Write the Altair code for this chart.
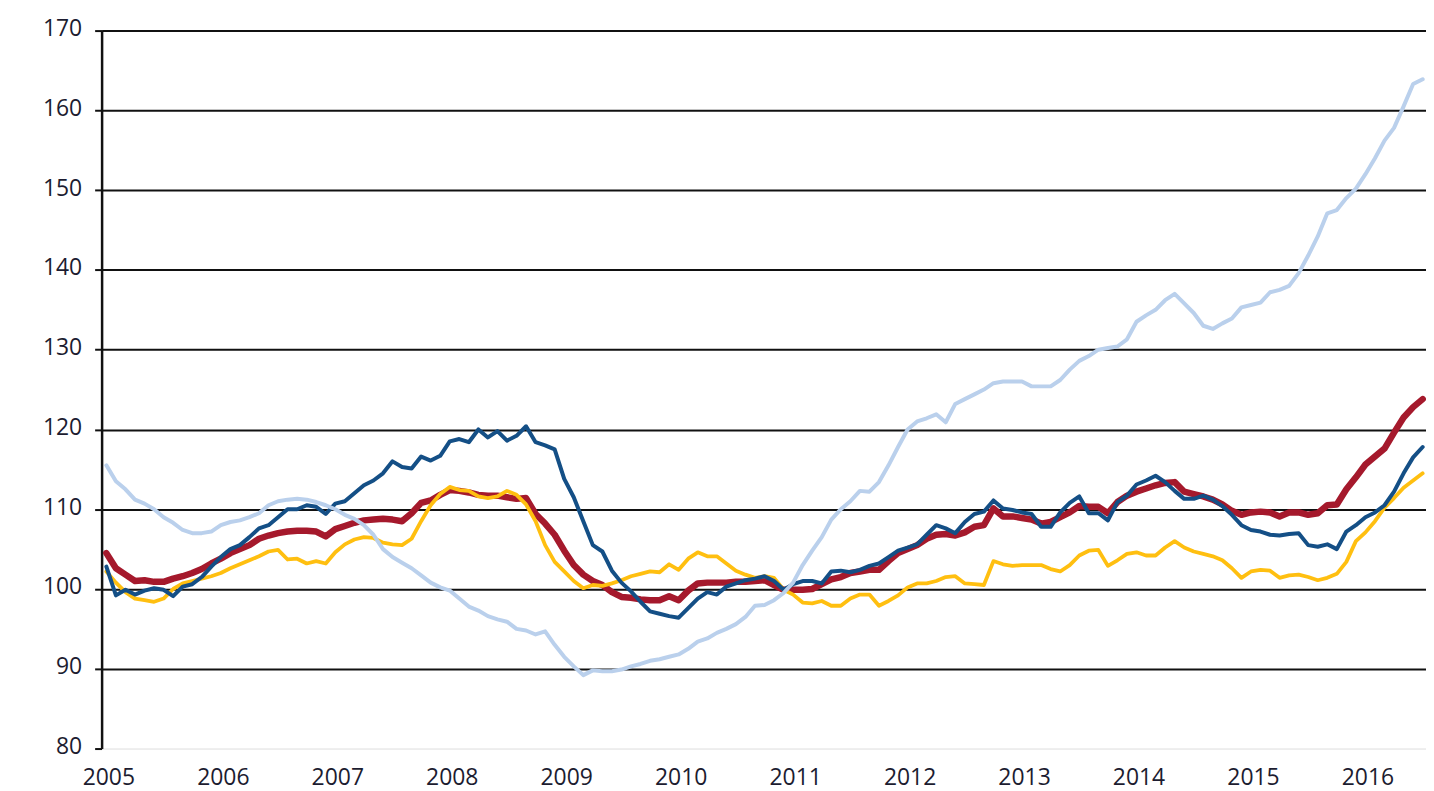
import altair as alt
import pandas as pd

# Monthly index: 0 = Jan 2005 ... 138 = Jul 2016
light_blue = [
    115.5, 113.5, 112.5, 111.2, 110.7, 110.0, 109.0, 108.3, 107.4, 107.0, 107.0, 107.2,
    108.0, 108.4, 108.6, 109.0, 109.5, 110.5, 111.0, 111.2, 111.3, 111.2, 110.9, 110.5,
    110.0, 109.3, 108.8, 108.0, 106.8, 105.0, 104.0, 103.3, 102.6, 101.7, 100.8, 100.2,
    99.8, 98.8, 97.8, 97.3, 96.6, 96.2, 95.9, 95.0, 94.8, 94.3, 94.7, 93.0,
    91.5, 90.3, 89.2, 89.8, 89.7, 89.7, 89.9, 90.3, 90.6, 91.0, 91.2, 91.5,
    91.8, 92.5, 93.4, 93.8, 94.5, 95.0, 95.6, 96.5, 97.9, 98.0, 98.6, 99.5,
    100.8, 103.0, 104.8, 106.5, 108.7, 110.0, 111.0, 112.3, 112.2, 113.4, 115.5, 117.8,
    120.0, 121.0, 121.4, 121.9, 120.9, 123.2, 123.8, 124.4, 125.0, 125.8, 126.0, 126.0,
    126.0, 125.4, 125.4, 125.4, 126.2, 127.5, 128.6, 129.2, 130.0, 130.2, 130.4, 131.3,
    133.5, 134.3, 135.0, 136.2, 137.0, 135.8, 134.6, 133.0, 132.6, 133.3, 133.9, 135.3,
    135.6, 135.9, 137.2, 137.5, 138.0, 139.6, 141.8, 144.2, 147.1, 147.5, 149.0, 150.2,
    152.0, 154.0, 156.2, 157.8, 160.5, 163.3, 163.9,
]
dark_blue = [
    102.8, 99.2, 99.9, 99.3, 99.8, 100.1, 99.9, 99.1, 100.3, 100.6, 101.5, 102.8,
    104.0, 105.0, 105.5, 106.5, 107.6, 108.0, 109.0, 110.0, 110.0, 110.5, 110.3, 109.4,
    110.7, 111.0, 112.0, 113.0, 113.6, 114.5, 116.0, 115.3, 115.1, 116.6, 116.1, 116.7,
    118.5, 118.8, 118.4, 120.0, 119.0, 119.8, 118.6, 119.2, 120.4, 118.4, 118.0, 117.5,
    113.8, 111.5, 108.5, 105.5, 104.7, 102.3, 100.8, 99.7, 98.4, 97.2, 96.9, 96.6,
    96.4, 97.6, 98.8, 99.6, 99.3, 100.3, 100.7, 101.1, 101.3, 101.6, 101.0, 99.9,
    100.6, 101.0, 101.0, 100.7, 102.2, 102.3, 102.1, 102.4, 102.9, 103.2, 104.0, 104.8,
    105.2, 105.6, 106.8, 108.0, 107.6, 107.0, 108.4, 109.4, 109.7, 111.1, 110.1, 109.9,
    109.6, 109.4, 107.8, 107.8, 109.6, 110.8, 111.6, 109.5, 109.5, 108.6, 110.9, 111.7,
    113.1, 113.6, 114.2, 113.4, 112.3, 111.3, 111.3, 111.7, 111.2, 110.4, 109.3, 108.0,
    107.4, 107.2, 106.8, 106.7, 106.9, 107.0, 105.5, 105.3, 105.6, 105.0, 107.2, 108.0,
    109.0, 109.6, 110.5, 112.2, 114.5, 116.5, 117.8,
]
dark_red = [
    104.5, 102.6, 101.8, 101.0, 101.1, 100.9, 100.9, 101.3, 101.6, 102.0, 102.5, 103.2,
    103.8, 104.5, 105.0, 105.5, 106.3, 106.7, 107.0, 107.2, 107.3, 107.3, 107.2, 106.6,
    107.5, 107.9, 108.3, 108.6, 108.7, 108.8, 108.7, 108.5, 109.5, 110.8, 111.1, 111.8,
    112.4, 112.3, 112.1, 111.8, 111.7, 111.7, 111.5, 111.3, 111.4, 109.4, 108.2, 106.8,
    104.8, 103.0, 101.8, 101.0, 100.5, 99.6, 99.0, 98.9, 98.7, 98.6, 98.6, 99.1,
    98.6, 99.8, 100.7, 100.8, 100.8, 100.8, 100.9, 100.9, 101.0, 101.1, 100.5, 99.9,
    99.9, 99.9, 100.0, 100.6, 101.2, 101.5, 102.0, 102.2, 102.4, 102.4, 103.5, 104.5,
    105.0, 105.5, 106.3, 106.8, 106.9, 106.7, 107.1, 107.8, 108.0, 110.1, 109.1, 109.1,
    108.9, 108.7, 108.2, 108.4, 109.0, 109.6, 110.4, 110.3, 110.3, 109.5, 110.9, 111.7,
    112.2, 112.6, 113.0, 113.3, 113.4, 112.2, 111.9, 111.6, 111.2, 110.6, 109.8, 109.3,
    109.6, 109.7, 109.6, 109.1, 109.6, 109.6, 109.3, 109.5, 110.5, 110.6, 112.5, 114.0,
    115.6, 116.6, 117.6, 119.6, 121.5, 122.8, 123.8,
]
yellow = [
    102.2, 100.8, 99.6, 98.8, 98.6, 98.4, 98.8, 100.0, 100.7, 101.0, 101.3, 101.6,
    102.0, 102.6, 103.1, 103.6, 104.1, 104.7, 104.9, 103.7, 103.8, 103.2, 103.5, 103.2,
    104.6, 105.6, 106.2, 106.5, 106.4, 105.8, 105.6, 105.5, 106.3, 108.5, 110.5, 111.9,
    112.8, 112.4, 112.3, 111.6, 111.4, 111.6, 112.3, 111.8, 110.6, 108.5, 105.5, 103.4,
    102.2, 101.0, 100.1, 100.5, 100.4, 100.7, 101.1, 101.6, 101.9, 102.2, 102.1, 103.1,
    102.4, 103.8, 104.6, 104.1, 104.1, 103.2, 102.3, 101.8, 101.4, 101.6, 101.4, 99.9,
    99.3, 98.3, 98.2, 98.5, 97.9, 97.9, 98.8, 99.3, 99.3, 97.9, 98.5, 99.2,
    100.2, 100.7, 100.7, 101.0, 101.5, 101.6, 100.7, 100.6, 100.5, 103.5, 103.1, 102.9,
    103.0, 103.0, 103.0, 102.5, 102.2, 103.0, 104.2, 104.8, 104.9, 102.9, 103.6, 104.4,
    104.6, 104.2, 104.2, 105.2, 106.0, 105.2, 104.7, 104.4, 104.1, 103.6, 102.6, 101.4,
    102.2, 102.4, 102.3, 101.4, 101.7, 101.8, 101.5, 101.1, 101.4, 101.9, 103.4, 106.0,
    107.1, 108.5, 110.2, 111.4, 112.7, 113.6, 114.5,
]
year_labels = list(range(2005, 2017))
y_ticks = list(range(80, 171, 10))

FONT = "Open Sans"
TEXT = "#1c1c30"


def frame(values):
    return pd.DataFrame({"m": list(range(len(values))), "v": values})


x_enc = alt.X(
    "m:Q",
    scale=alt.Scale(domain=[-0.5, 138.35], nice=False, zero=False),
    axis=alt.Axis(
        values=[12 * k for k in range(len(year_labels))],
        labelExpr="toString(2005 + round(datum.value / 12))",
        title=None, grid=False, domain=False, ticks=False, tickSize=0,
        labelPadding=18, labelOffset=2, labelFont=FONT, labelFontSize=23,
        labelColor=TEXT, labelFlush=False,
    ),
)
y_enc = alt.Y(
    "v:Q",
    scale=alt.Scale(domain=[80, 170], nice=False, zero=False),
    axis=alt.Axis(
        values=y_ticks, title=None, grid=True,
        gridColor={"condition": {"test": "datum.value === 80", "value": "transparent"}, "value": "#111111"},
        gridWidth=2, domain=True, domainColor="#111111", domainWidth=2.5,
        ticks=True, tickColor="#111111", tickWidth=2, tickSize=7,
        labelPadding=13, labelFont=FONT, labelFontSize=23, labelColor=TEXT,
        labelOffset=-2,
    ),
)


def line(values, color, width):
    return alt.Chart(frame(values)).mark_line(
        color=color, strokeWidth=width, strokeJoin="round", strokeCap="round"
    ).encode(x=x_enc, y=y_enc)


chart = alt.layer(
    line(dark_red, "#a5192c", 6.5),
    line(yellow, "#ffbf10", 3.8),
    line(dark_blue, "#144f86", 4),
    line(light_blue, "#bad0ec", 4),
).properties(
    width=1330,
    height=721,
    padding={"left": 94, "top": 21, "right": 0, "bottom": 52},
    autosize="none",
).configure_view(stroke=None).configure(background="white")

chart.save("out.html", embed_options={"renderer": "svg", "actions": False})
